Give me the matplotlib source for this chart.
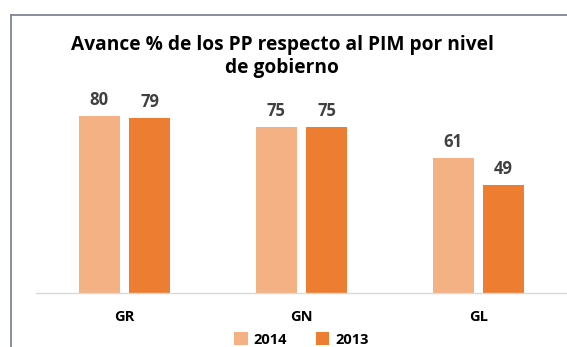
import matplotlib

matplotlib.use("Agg")
import matplotlib.pyplot as plt
from matplotlib.lines import Line2D
from matplotlib.patches import Patch
import numpy as np

plt.rcParams["font.family"] = ["Open Sans", "DejaVu Sans"]

niveles = ["GR", "GN", "GL"]
avance_2014 = [80, 75, 61]
avance_2013 = [79, 75, 49]
series = [("2014", avance_2014, "#F4B183"), ("2013", avance_2013, "#ED7D31")]

W, H = 567, 347
fig = plt.figure(figsize=(W / 100, H / 100), dpi=100)
fig.patch.set_facecolor("white")

# plot area in pixel units: baseline at y=293, left edge at x=36
ax = fig.add_axes([36 / W, (H - 293) / H, (W - 36) / W, (293 - 94) / H])

x = np.arange(len(niveles))
width = 0.229
offsets = [-0.142, 0.142]
for (label, vals, color), off in zip(series, offsets):
    bars = ax.bar(x + off, vals, width, color=color, label=label, zorder=2)
    for b, v in zip(bars, vals):
        ax.annotate(f"{v}", (b.get_x() + b.get_width() / 2, v),
                    xytext=(0, 5), textcoords="offset points",
                    ha="center", va="bottom", fontsize=12,
                    fontweight="bold", color="#404040")

ax.set_xlim(-0.5, 2.5)
ax.set_ylim(0, 90)
ax.set_yticks([])
ax.set_xticks(x)
ax.set_xticklabels(niveles, fontsize=10.5, fontweight="bold", color="#000000")
ax.tick_params(axis="x", length=0, pad=12)
for side in ["top", "right", "left"]:
    ax.spines[side].set_visible(False)
ax.spines["bottom"].set_color("#D9D9D9")
ax.spines["bottom"].set_linewidth(1.0)
ax.patch.set_alpha(0)

fig.text(282 / W, 1 - 35 / H, "Avance % de los PP respecto al PIM por nivel\nde gobierno",
         ha="center", va="top", fontsize=13.8, fontweight="bold",
         linespacing=1.22, color="#000000")

handles = [Patch(facecolor=c, label=l) for l, _, c in series]
fig.legend(handles=handles, loc="center", bbox_to_anchor=(301.5 / W, 1 - 339.5 / H),
           ncol=2, frameon=False, prop={"size": 10.5, "weight": "bold"},
           handlelength=0.9, handleheight=0.9, handletextpad=0.4, columnspacing=2.0,
           borderpad=0.1)

# outer chart frame (left and top edges)
frame_color = "#7F8794"
fig.add_artist(Line2D([11 / W, 11 / W], [0, 1 - 15 / H], transform=fig.transFigure,
                      color=frame_color, linewidth=1.3))
fig.add_artist(Line2D([11 / W, 1], [1 - 15 / H, 1 - 15 / H], transform=fig.transFigure,
                      color=frame_color, linewidth=1.3))

fig.savefig("out.png", dpi=100)
